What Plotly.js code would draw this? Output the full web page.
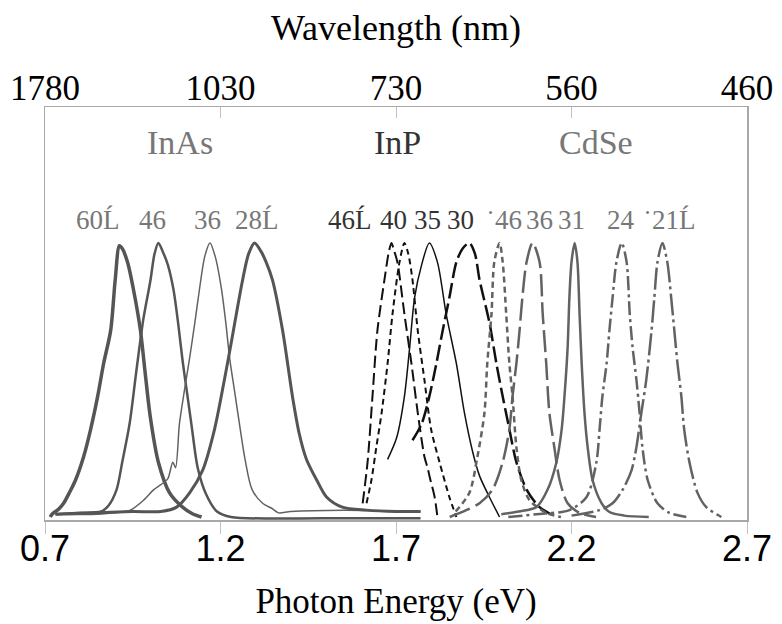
<!DOCTYPE html>
<html>
<head>
<meta charset="utf-8">
<script src="https://cdn.plot.ly/plotly-3.0.1.min.js"></script>
<style>html,body{margin:0;padding:0;background:#fff;}</style>
</head>
<body>
<div id="chart" style="width:782px;height:624px;"></div>
<script>
// ---- axis ticks ----
const energyTicks = [0.7, 1.2, 1.7, 2.2, 2.7];
const energyTickText = ['0.7', '1.2', '1.7', '2.2', '2.7'];
const wavelengthTickText = ['1780', '1030', '730', '560', '460'];

// ---- labels ----
const materialLabels = ['InAs', 'InP', 'CdSe'];
const sizeLabels = ['60Ĺ', '46', '36', '28Ĺ', '46Ĺ', '40', '35', '30', '˙46', '36', '31', '24', '˙21Ĺ'];

// ---- InAs spectra (photon energy eV, normalised PL) ----
const inas60_x = [0.715, 0.72, 0.74, 0.753, 0.77, 0.787, 0.81, 0.83, 0.85, 0.867, 0.887, 0.90, 0.912, 0.92, 0.935, 0.952, 0.972, 0.985, 1.0, 1.023, 1.055, 1.092, 1.12, 1.146];
const inas60_y = [0.0, 0.01, 0.03, 0.05, 0.09, 0.135, 0.22, 0.32, 0.44, 0.56, 0.68, 0.865, 0.99, 0.98, 0.93, 0.83, 0.68, 0.53, 0.365, 0.20, 0.088, 0.036, 0.012, 0.0];

const inas46_x = [0.73, 0.80, 0.86, 0.88, 0.904, 0.92, 0.941, 0.96, 0.98, 1.0, 1.012, 1.023, 1.035, 1.05, 1.066, 1.08, 1.092, 1.105, 1.118, 1.135, 1.16, 1.19, 1.23, 1.50, 1.77];
const inas46_y = [0.01, 0.015, 0.02, 0.04, 0.10, 0.20, 0.34, 0.53, 0.72, 0.86, 0.96, 1.0, 0.97, 0.92, 0.83, 0.70, 0.57, 0.45, 0.33, 0.18, 0.08, 0.02, 0.0, -0.005, -0.005];

const inas36_x = [0.73, 0.85, 0.90, 0.943, 0.98, 1.01, 1.029, 1.05, 1.064, 1.072, 1.083, 1.097, 1.112, 1.127, 1.14, 1.155, 1.17, 1.185, 1.203, 1.215, 1.226, 1.24, 1.254, 1.27, 1.29, 1.32, 1.348, 1.365, 1.40, 1.55, 1.77];
const inas36_y = [0.01, 0.01, 0.015, 0.025, 0.06, 0.10, 0.117, 0.14, 0.20, 0.18, 0.34, 0.46, 0.58, 0.71, 0.83, 0.95, 1.0, 0.95, 0.83, 0.71, 0.58, 0.46, 0.34, 0.21, 0.10, 0.05, 0.03, 0.015, 0.02, 0.025, 0.02];

const inas28_x = [0.73, 0.85, 0.95, 1.03, 1.075, 1.112, 1.149, 1.183, 1.211, 1.232, 1.245, 1.263, 1.28, 1.297, 1.315, 1.33, 1.348, 1.377, 1.405, 1.425, 1.445, 1.474, 1.502, 1.547, 1.615, 1.70, 1.77];
const inas28_y = [0.01, 0.015, 0.02, 0.02, 0.036, 0.088, 0.17, 0.32, 0.5, 0.646, 0.74, 0.865, 0.96, 1.0, 0.97, 0.93, 0.865, 0.68, 0.44, 0.30, 0.21, 0.135, 0.073, 0.036, 0.025, 0.02, 0.02];

// ---- InP spectra ----
const inp46_x = [1.605, 1.619, 1.633, 1.647, 1.667, 1.68, 1.687, 1.695, 1.704, 1.724, 1.744, 1.762, 1.781, 1.79, 1.796, 1.81, 1.818];
const inp46_y = [0.05, 0.2, 0.44, 0.68, 0.865, 0.97, 1.0, 0.97, 0.93, 0.74, 0.56, 0.38, 0.22, 0.18, 0.146, 0.073, 0.0];

const inp40_x = [1.616, 1.63, 1.644, 1.659, 1.676, 1.69, 1.71, 1.724, 1.735, 1.747, 1.762, 1.781, 1.80, 1.824, 1.852, 1.872];
const inp40_y = [0.05, 0.135, 0.255, 0.38, 0.56, 0.74, 0.93, 1.0, 0.96, 0.865, 0.68, 0.5, 0.32, 0.2, 0.073, 0.0];

const inp35_x = [1.676, 1.702, 1.724, 1.739, 1.753, 1.773, 1.795, 1.818, 1.843, 1.872, 1.895, 1.918, 1.938, 1.966, 1.995];
const inp35_y = [0.21, 0.29, 0.44, 0.62, 0.80, 0.92, 1.0, 0.93, 0.74, 0.56, 0.38, 0.24, 0.15, 0.073, 0.0];

const inp30_x = [1.747, 1.773, 1.795, 1.815, 1.833, 1.852, 1.872, 1.89, 1.909, 1.925, 1.938, 1.966, 1.986, 2.004, 2.023, 2.043, 2.072, 2.109, 2.157];
const inp30_y = [0.28, 0.34, 0.44, 0.56, 0.68, 0.8, 0.93, 0.98, 1.0, 0.96, 0.865, 0.71, 0.56, 0.44, 0.32, 0.2, 0.1, 0.036, 0.0];

// ---- CdSe spectra ----
const cdse46_x = [1.87, 1.909, 1.932, 1.952, 1.96, 1.972, 1.98, 1.995, 2.004, 2.014, 2.023, 2.032, 2.043, 2.057, 2.08, 2.128, 2.17];
const cdse46_y = [0.02, 0.088, 0.22, 0.38, 0.56, 0.74, 0.93, 1.0, 0.93, 0.74, 0.56, 0.44, 0.255, 0.135, 0.062, 0.015, 0.0];

const cdse36_x = [1.853, 1.90, 1.938, 1.975, 2.004, 2.023, 2.032, 2.043, 2.052, 2.06, 2.072, 2.089, 2.109, 2.118, 2.128, 2.137, 2.151, 2.166, 2.189, 2.223, 2.27];
const cdse36_y = [0.0, 0.025, 0.05, 0.1, 0.2, 0.32, 0.44, 0.56, 0.68, 0.8, 0.93, 1.0, 0.93, 0.74, 0.56, 0.38, 0.255, 0.135, 0.05, 0.015, 0.0];

const cdse31_x = [2.0, 2.05, 2.1, 2.132, 2.157, 2.172, 2.18, 2.189, 2.194, 2.2, 2.209, 2.217, 2.223, 2.229, 2.237, 2.246, 2.26, 2.286, 2.308, 2.35, 2.42];
const cdse31_y = [0.01, 0.02, 0.036, 0.1, 0.2, 0.32, 0.44, 0.62, 0.8, 0.93, 1.0, 0.93, 0.74, 0.56, 0.38, 0.255, 0.135, 0.05, 0.018, 0.005, 0.0];

const cdse24_x = [2.02, 2.10, 2.194, 2.243, 2.271, 2.28, 2.288, 2.3, 2.308, 2.317, 2.328, 2.343, 2.357, 2.366, 2.374, 2.385, 2.394, 2.402, 2.417, 2.445, 2.479, 2.527];
const cdse24_y = [0.0, 0.01, 0.025, 0.073, 0.2, 0.32, 0.44, 0.56, 0.68, 0.8, 0.93, 1.0, 0.93, 0.74, 0.62, 0.5, 0.38, 0.255, 0.135, 0.05, 0.015, 0.0];

const cdse21_x = [2.20, 2.28, 2.317, 2.346, 2.371, 2.385, 2.399, 2.413, 2.428, 2.436, 2.445, 2.459, 2.473, 2.484, 2.493, 2.502, 2.513, 2.521, 2.536, 2.559, 2.584, 2.627];
const cdse21_y = [0.005, 0.025, 0.05, 0.1, 0.17, 0.255, 0.38, 0.5, 0.68, 0.8, 0.93, 1.0, 0.93, 0.8, 0.68, 0.56, 0.44, 0.32, 0.2, 0.088, 0.036, 0.0];

// ---- styling ----
const SERIF = "'Liberation Serif', 'Times New Roman', Times, serif";
const SANS = "'Liberation Sans Narrow', 'Arial Narrow', 'Liberation Sans', Arial, sans-serif";
const GREY = '#555555';
const LGREY = '#626262';
const BLACK = '#111111';
function tr(x, y, color, width, dash) {
  return {x: x, y: y, type: 'scatter', mode: 'lines',
    line: {color: color, width: width, dash: dash || 'solid', shape: 'spline', smoothing: 0.8},
    hoverinfo: 'skip', showlegend: false};
}
const traces = [
  tr(inas60_x, inas60_y, GREY, 3.5),
  tr(inas46_x, inas46_y, GREY, 2.5),
  tr(inas36_x, inas36_y, LGREY, 1.5),
  tr(inas28_x, inas28_y, GREY, 3),
  tr(inp46_x, inp46_y, BLACK, 2, '12px,5px'),
  tr(inp40_x, inp40_y, BLACK, 2, '6px,4px'),
  tr(inp35_x, inp35_y, BLACK, 1.5),
  tr(inp30_x, inp30_y, BLACK, 2.5, '16px,5px'),
  tr(cdse46_x, cdse46_y, LGREY, 2.5, '6px,4px'),
  tr(cdse36_x, cdse36_y, LGREY, 2.5, '22px,6px'),
  tr(cdse31_x, cdse31_y, LGREY, 2.5),
  tr(cdse24_x, cdse24_y, LGREY, 2.5, '14px,4px,3px,4px'),
  tr(cdse21_x, cdse21_y, LGREY, 2.5, '22px,4px,3px,4px'),
  {x: [], y: [], xaxis: 'x2', yaxis: 'y', type: 'scatter', mode: 'lines', showlegend: false, hoverinfo: 'skip'}
];

// label placement (layout only)
const matPos = [[1.086, '#777777'], [1.704, '#333333'], [2.271, '#777777']];
const sizePos = [0.850, 1.006, 1.163, 1.303, 1.570, 1.693, 1.790, 1.884, 2.008, 2.109, 2.200, 2.342, 2.478];
const sizeCol = ['#777','#777','#777','#777','#333','#333','#333','#333','#777','#777','#777','#777','#777'];
const annotations = [];
materialLabels.forEach((t, i) => annotations.push({
  text: t, x: matPos[i][0], y: 1.365, xref: 'x', yref: 'y', showarrow: false,
  font: {family: SERIF, size: 34, color: matPos[i][1]}
}));
sizeLabels.forEach((t, i) => annotations.push({
  text: t, x: sizePos[i], y: 1.084, xref: 'x', yref: 'y', showarrow: false,
  font: {family: SERIF, size: 27, color: sizeCol[i]}
}));

const layout = {
  width: 782, height: 624,
  margin: {l: 45, r: 35, t: 107, b: 104, pad: 0},
  paper_bgcolor: '#ffffff', plot_bgcolor: '#ffffff',
  showlegend: false,
  xaxis: {
    range: [0.7, 2.7], tickmode: 'array', tickvals: energyTicks, ticktext: energyTickText,
    ticks: 'outside', ticklen: 12, tickcolor: '#c0c0c0', tickwidth: 1,
    showline: true, linecolor: '#a8a8a8', linewidth: 1.5, showgrid: false, zeroline: false,
    tickfont: {family: SANS, size: 36, color: '#000'},
    ticklabelstandoff: -16,
    title: {text: 'Photon Energy (eV)', font: {family: SERIF, size: 35, color: '#000'}, standoff: 21},
    automargin: false
  },
  xaxis2: {
    overlaying: 'x', side: 'top', anchor: 'y',
    range: [0.7, 2.7], tickmode: 'array', tickvals: energyTicks, ticktext: wavelengthTickText,
    ticks: 'inside', ticklen: 11, tickcolor: '#c0c0c0', tickwidth: 1,
    showline: true, linecolor: '#a8a8a8', linewidth: 1.5, showgrid: false, zeroline: false,
    tickfont: {family: SERIF, size: 35, color: '#000'},
    ticklabelstandoff: -8,
    title: {text: 'Wavelength (nm)', font: {family: SERIF, size: 36, color: '#000'}, standoff: 17},
    automargin: false
  },
  yaxis: {
    range: [-0.011, 1.496], showticklabels: false, ticks: '', showgrid: false, zeroline: false,
    showline: true, mirror: true, linecolor: '#a8a8a8', linewidth: 1.5
  },
  annotations: annotations
};

Plotly.newPlot('chart', traces, layout, {staticPlot: true, displayModeBar: false});
</script>
</body>
</html>
